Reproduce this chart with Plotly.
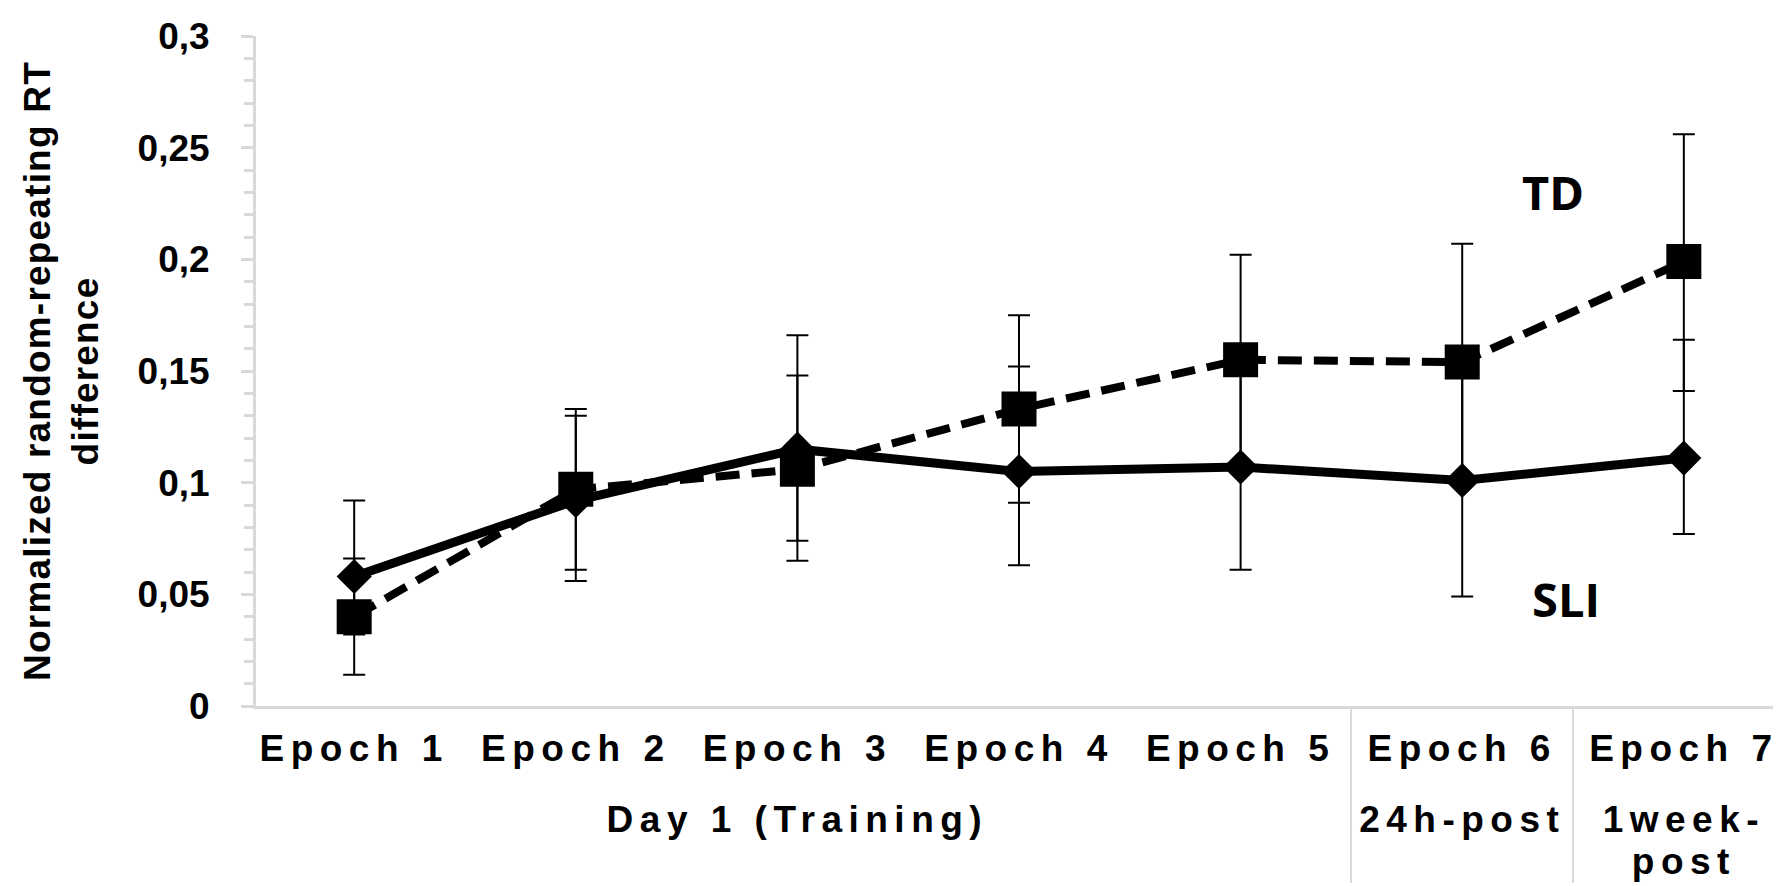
import plotly.graph_objects as go

# ---- data ----
epochs = ["Epoch 1", "Epoch 2", "Epoch 3", "Epoch 4", "Epoch 5", "Epoch 6", "Epoch 7"]
sessions = ["Day 1 (Training)"] * 5 + ["24h-post", "1week-|post"]

td_mean = [0.040, 0.097, 0.106, 0.133, 0.155, 0.154, 0.199]
td_upper = [0.066, 0.133, 0.148, 0.175, 0.202, 0.207, 0.256]
td_lower = [0.014, 0.061, 0.074, 0.091, 0.109, 0.101, 0.141]

sli_mean = [0.058, 0.092, 0.115, 0.105, 0.107, 0.101, 0.111]
sli_upper = [0.092, 0.130, 0.166, 0.152, 0.153, 0.154, 0.164]
sli_lower = [0.032, 0.056, 0.065, 0.063, 0.061, 0.049, 0.077]

y_tickvals = [0, 0.05, 0.1, 0.15, 0.2, 0.25, 0.3]
y_ticktext = ["0", "0,05", "0,1", "0,15", "0,2", "0,25", "0,3"]

# ---- helpers ----
# glyphs drawn at 37px while the axis font (which sets row spacing) is smaller
LS = "letter-spacing:6.5px;font-size:37px"


def spaced(s):
    parts = s.split("|")
    return "<br>".join(f"<span style='{LS}'>{p}</span>" for p in parts)


# group labels start with a line break so they sit one row lower
x_cat = [["<br>" + spaced(s) for s in sessions], [spaced(e) for e in epochs]]

AX_GRAY = "#d9d9d9"
FONT = "Liberation Sans, Arial, sans-serif"

fig = go.Figure()

fig.add_trace(go.Scatter(
    x=x_cat, y=td_mean, name="TD", mode="lines+markers",
    line=dict(color="black", width=8, dash="24px,12px"),
    marker=dict(symbol="square", size=35, color="black"),
    error_y=dict(type="data", symmetric=False,
                 array=[u - m for u, m in zip(td_upper, td_mean)],
                 arrayminus=[m - l for m, l in zip(td_mean, td_lower)],
                 color="black", thickness=2, width=11),
))

fig.add_trace(go.Scatter(
    x=x_cat, y=sli_mean, name="SLI", mode="lines+markers",
    line=dict(color="black", width=9),
    marker=dict(symbol="diamond", size=27, color="black"),
    error_y=dict(type="data", symmetric=False,
                 array=[u - m for u, m in zip(sli_upper, sli_mean)],
                 arrayminus=[m - l for m, l in zip(sli_mean, sli_lower)],
                 color="black", thickness=2, width=11),
))

fig.add_annotation(x=5.41, y=0.23, xref="x", yref="y", text="TD", showarrow=False,
                   font=dict(family="Open Sans, sans-serif", size=47, color="black", weight="bold"))
fig.add_annotation(x=5.47, y=0.048, xref="x", yref="y", text="SLI", showarrow=False,
                   font=dict(family="Open Sans, sans-serif", size=47, color="black", weight="bold"))

fig.update_layout(
    width=1781, height=886,
    margin=dict(l=248, r=7, t=28, b=188, autoexpand=False),
    paper_bgcolor="white", plot_bgcolor="white",
    showlegend=False,
    font=dict(family=FONT, color="black"),
    xaxis=dict(
        type="multicategory", automargin=False,
        showline=True, linecolor=AX_GRAY, linewidth=3,
        showgrid=False, zeroline=False, ticks="",
        showdividers=True, dividercolor=AX_GRAY, dividerwidth=2,
        ticklabelstandoff=14,
        tickfont=dict(family=FONT, size=32, color="black", weight="bold"),
    ),
    yaxis=dict(
        range=[0, 0.3], automargin=False,
        showline=True, linecolor=AX_GRAY, linewidth=3,
        showgrid=False, zeroline=False,
        tickvals=y_tickvals, ticktext=y_ticktext,
        ticks="outside", ticklen=12, tickwidth=3, tickcolor=AX_GRAY,
        minor=dict(ticks="outside", dtick=0.01, ticklen=9, tickwidth=3, tickcolor=AX_GRAY),
        ticklabelstandoff=24, ticklabeloverflow="allow",
        tickfont=dict(family=FONT, size=37, color="black", weight="bold"),
        title=dict(text="<span style='letter-spacing:1.2px'>Normalized random-repeating RT</span><br>"
                        "<span style='letter-spacing:1.2px'>difference</span>",
                   font=dict(family=FONT, size=37, color="black", weight="bold"),
                   standoff=28),
    ),
    yaxis2=dict(
        range=[0, 0.3], overlaying="y", side="left", anchor="x", automargin=False,
        showline=False, showgrid=False, zeroline=False, showticklabels=False,
        tickvals=y_tickvals,
        ticks="inside", ticklen=12, tickwidth=3, tickcolor=AX_GRAY,
        minor=dict(ticks="inside", dtick=0.01, ticklen=9, tickwidth=3, tickcolor=AX_GRAY),
    ),
)

fig.write_html("out.html")
